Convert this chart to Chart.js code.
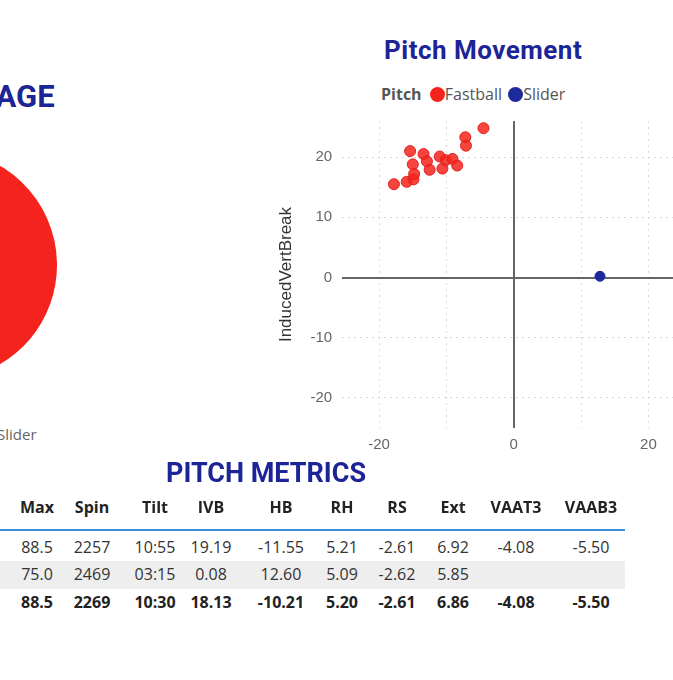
<!DOCTYPE html>
<html><head><meta charset="utf-8">
<script src="https://cdn.jsdelivr.net/npm/chart.js@4/dist/chart.umd.min.js"></script>
<style>
body{margin:0;width:673px;height:680px;overflow:hidden;background:#fff;font-family:"Open Sans",sans-serif;position:relative}
.t{position:absolute;font-family:Roboto,sans-serif;font-weight:700;color:#1c2496;white-space:nowrap}
#pieWrap{position:absolute;left:-173px;top:150px;width:230px;height:230px}
#scWrap{position:absolute;left:272px;top:102px;width:420px;height:360px}
.c{position:absolute;font-size:16px;color:#333;transform:translateX(-50%);white-space:nowrap}
.h{font-weight:700;color:#222}
.b{font-weight:700;color:#222}
</style></head><body>
<div class="t" style="left:-44px;top:78px;font-size:31px">USAGE</div>
<div id="pieWrap"><canvas id="pie"></canvas></div>
<div style="position:absolute;left:-3px;top:424px;font-size:15px;color:#666">Slider</div>
<div class="t" style="left:384px;top:35px;font-size:26px;letter-spacing:0.5px">Pitch Movement</div>
<div style="position:absolute;left:381px;top:83px;font-size:16px;color:#555"><b>Pitch</b>
<span style="display:inline-block;width:15px;height:15px;border-radius:50%;background:#f5231d;vertical-align:-2px;margin-left:4px"></span>Fastball
<span style="display:inline-block;width:15px;height:15px;border-radius:50%;background:#1f2a9a;vertical-align:-2px;margin-left:2px"></span>Slider</div>
<div id="scWrap"><canvas id="sc"></canvas></div>
<div class="t" style="left:166px;top:457px;font-size:27px">PITCH METRICS</div>
<div style="position:absolute;left:0;top:529px;width:625px;height:2px;background:#3d8fd9"></div>
<div style="position:absolute;left:0;top:561px;width:625px;height:28px;background:#eeeeee"></div>
<div id="tbl"></div>
<script>
const pitchTypes = ['Fastball', 'Slider'];
const pitchCounts = [17, 1];
const fbHB = [-17.8, -15.9, -14.9, -14.8, -15.0, -15.4, -13.4, -12.9, -12.5, -11.0, -10.6, -10.1, -9.1, -8.4, -7.2, -7.1, -4.5];
const fbIVB = [15.5, 15.9, 16.3, 17.2, 18.8, 21.0, 20.5, 19.3, 17.9, 20.1, 18.1, 19.5, 19.7, 18.6, 23.3, 21.9, 24.8];
const slHB = [12.8];
const slIVB = [0.2];
const headers = ['Avg', 'Max', 'Spin', 'Tilt', 'IVB', 'HB', 'RH', 'RS', 'Ext', 'VAAT3', 'VAAB3'];
const rowFastball = ['86.0', '88.5', '2257', '10:55', '19.19', '-11.55', '5.21', '-2.61', '6.92', '-4.08', '-5.50'];
const rowSlider = ['75.0', '75.0', '2469', '03:15', '0.08', '12.60', '5.09', '-2.62', '5.85', '', ''];
const rowTotal = ['85.4', '88.5', '2269', '10:30', '18.13', '-10.21', '5.20', '-2.61', '6.86', '-4.08', '-5.50'];
const colX = [-18, 37, 92, 155, 211, 281, 342, 397, 453, 516, 591];

// tabelle
const tbl = document.getElementById('tbl');
[[headers, 496, 'h'], [rowFastball, 536, ''], [rowSlider, 563, ''], [rowTotal, 591, 'b']].forEach(([row, y, cls]) => {
  row.forEach((v, i) => {
    const d = document.createElement('div');
    d.className = 'c ' + cls;
    d.style.left = colX[i] + 'px';
    d.style.top = y + 'px';
    d.textContent = v;
    tbl.appendChild(d);
  });
});

new Chart(document.getElementById('pie'), {
  type: 'pie',
  data: { labels: pitchTypes, datasets: [{ data: pitchCounts, backgroundColor: ['#f5231d', '#1f2a9a'], borderWidth: 0 }] },
  options: { responsive: true, maintainAspectRatio: false, animation: false, rotation: 200,
    plugins: { legend: { display: false }, tooltip: { enabled: false } } }
});

const gridCol = ctx => ctx.tick && ctx.tick.value === 0 ? '#666' : '#d8d8d8';
const gridW = ctx => ctx.tick && ctx.tick.value === 0 ? 2 : 1;
const gridDash = ctx => ctx.tick && ctx.tick.value === 0 ? [] : [2, 4];
const tickList = a => { a.ticks = [-20, -10, 0, 10, 20].map(v => ({ value: v })); };
new Chart(document.getElementById('sc'), {
  type: 'scatter',
  data: { datasets: [
    { label: 'Fastball', data: fbHB.map((x, i) => ({ x, y: fbIVB[i] })), backgroundColor: 'rgba(245,35,29,0.85)', borderColor: '#e0201a', pointRadius: 5.5 },
    { label: 'Slider', data: slHB.map((x, i) => ({ x, y: slIVB[i] })), backgroundColor: '#1f2a9a', borderColor: '#1f2a9a', pointRadius: 5 }
  ] },
  options: { responsive: true, maintainAspectRatio: false, animation: false,
    layout: { padding: { top: 5, right: 0 } },
    plugins: { legend: { display: false }, tooltip: { enabled: false } },
    scales: {
      x: { min: -25.5, max: 25.5, afterBuildTicks: tickList,
        grid: { color: gridCol, lineWidth: gridW, drawTicks: false }, border: { display: false, dash: gridDash },
        ticks: { color: '#666', font: { size: 15 }, padding: 8, callback: v => (v % 20 === 0 ? v : '') } },
      y: { min: -25, max: 26, afterBuildTicks: tickList,
        grid: { color: gridCol, lineWidth: gridW, drawTicks: false }, border: { display: false, dash: gridDash },
        title: { display: true, text: 'InducedVertBreak', color: '#333', font: { size: 17 } },
        ticks: { color: '#666', font: { size: 15 }, padding: 10 } }
    } }
});
</script>
</body></html>
